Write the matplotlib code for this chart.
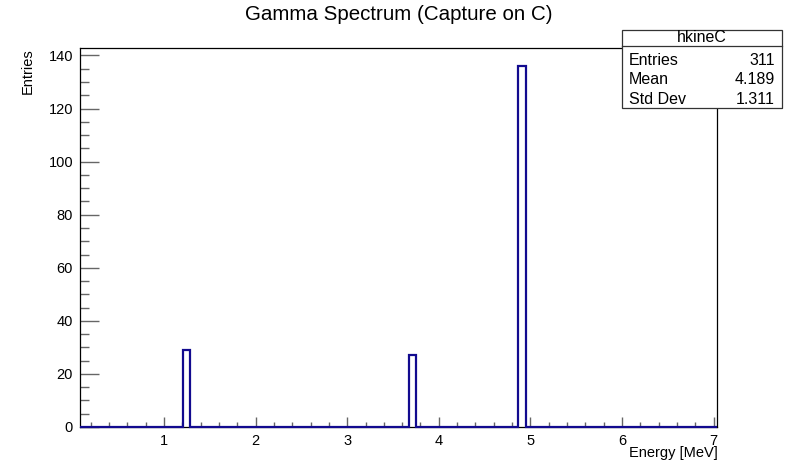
import matplotlib
matplotlib.use("Agg")
import matplotlib.pyplot as plt
from matplotlib.patches import Rectangle
from matplotlib.ticker import MultipleLocator

plt.rcParams['font.family'] = ['Liberation Sans', 'DejaVu Sans']

# ---- data ----
x_range = [0.085, 7.035]
peak_left = [1.204, 3.674, 4.866]
peak_right = [1.280, 3.754, 4.946]
peak_counts = [29, 27, 136]
stats_name = "hkineC"
stats_labels = ["Entries", "Mean", "Std Dev"]
stats_values = ["311", "4.189", "1.311"]
title = "Gamma Spectrum (Capture on C)"
xlabel = "Energy [MeV]"
ylabel = "Entries"

# build outline edges / values
edges = [x_range[0]]
values = []
for l, r, c in zip(peak_left, peak_right, peak_counts):
    edges += [l, r]
    values += [0, c]
edges.append(x_range[1])
values.append(0)

W, H = 798, 475
fig = plt.figure(figsize=(W / 100, H / 100), dpi=100)
ax = fig.add_axes([80 / W, 1 - 427 / H, (717 - 80) / W, (427 - 47.5) / H])

line_col = '#120a8f'
ax.stairs(values, edges, color=line_col, linewidth=1.6, clip_on=False, zorder=3)

ax.set_xlim(*x_range)
ax.set_ylim(0, 143)
ax.xaxis.set_major_locator(MultipleLocator(1))
ax.xaxis.set_minor_locator(MultipleLocator(0.2))
ax.yaxis.set_major_locator(MultipleLocator(20))
ax.yaxis.set_minor_locator(MultipleLocator(5))

for s in ax.spines.values():
    s.set_color('black')
    s.set_linewidth(0.9)

tick_col = '#666666'
ax.tick_params(axis='both', which='both', direction='in', top=False, right=False,
               color=tick_col, width=1.0, labelsize=10.5, labelcolor='black')
ax.tick_params(axis='x', which='major', length=7.5, pad=5)
ax.tick_params(axis='x', which='minor', length=3.8)
ax.tick_params(axis='y', which='major', length=13.5, pad=5)
ax.tick_params(axis='y', which='minor', length=6.5)

# title
fig.text(399 / W, 1 - 15 / H, title, ha='center', va='center', fontsize=14.8)
# axis labels
fig.text(718 / W, 1 - 453.5 / H, xlabel, ha='right', va='center', fontsize=10.5)
fig.text(28 / W, 1 - 48 / H, ylabel, ha='center', va='top', rotation=90, fontsize=10.5)

# stats box
bx0, bx1, by0, by1 = 622, 782, 29.5, 107.5
shadow = Rectangle((bx0 + 1.5, 1 - (by1 + 1.5) / H), 0, 0)
fig.patches.append(Rectangle(((bx0 + 1.2) / W, 1 - (by1 + 1.2) / H),
                             (bx1 - bx0) / W, (by1 - by0) / H,
                             transform=fig.transFigure, facecolor='#444444',
                             edgecolor='none', zorder=5))
fig.patches.append(Rectangle((bx0 / W, 1 - by1 / H), (bx1 - bx0) / W, (by1 - by0) / H,
                             transform=fig.transFigure, facecolor='white',
                             edgecolor='#333333', linewidth=0.9, zorder=6))
fig.lines.append(plt.Line2D([bx0 / W, bx1 / W], [1 - 45.5 / H, 1 - 45.5 / H],
                            transform=fig.transFigure, color='#333333', linewidth=0.9,
                            zorder=7))
fig.text((bx0 + bx1) / 2 / W, 1 - 37.8 / H, stats_name, ha='center', va='center',
         fontsize=11.5, zorder=8)
row_y = [60.7, 80, 99]
for lab, val, yy in zip(stats_labels, stats_values, row_y):
    fig.text(629 / W, 1 - yy / H, lab, ha='left', va='center', fontsize=11.5, zorder=8)
    fig.text(775 / W, 1 - yy / H, val, ha='right', va='center', fontsize=11.5, zorder=8)

fig.savefig("out.png", dpi=100)
